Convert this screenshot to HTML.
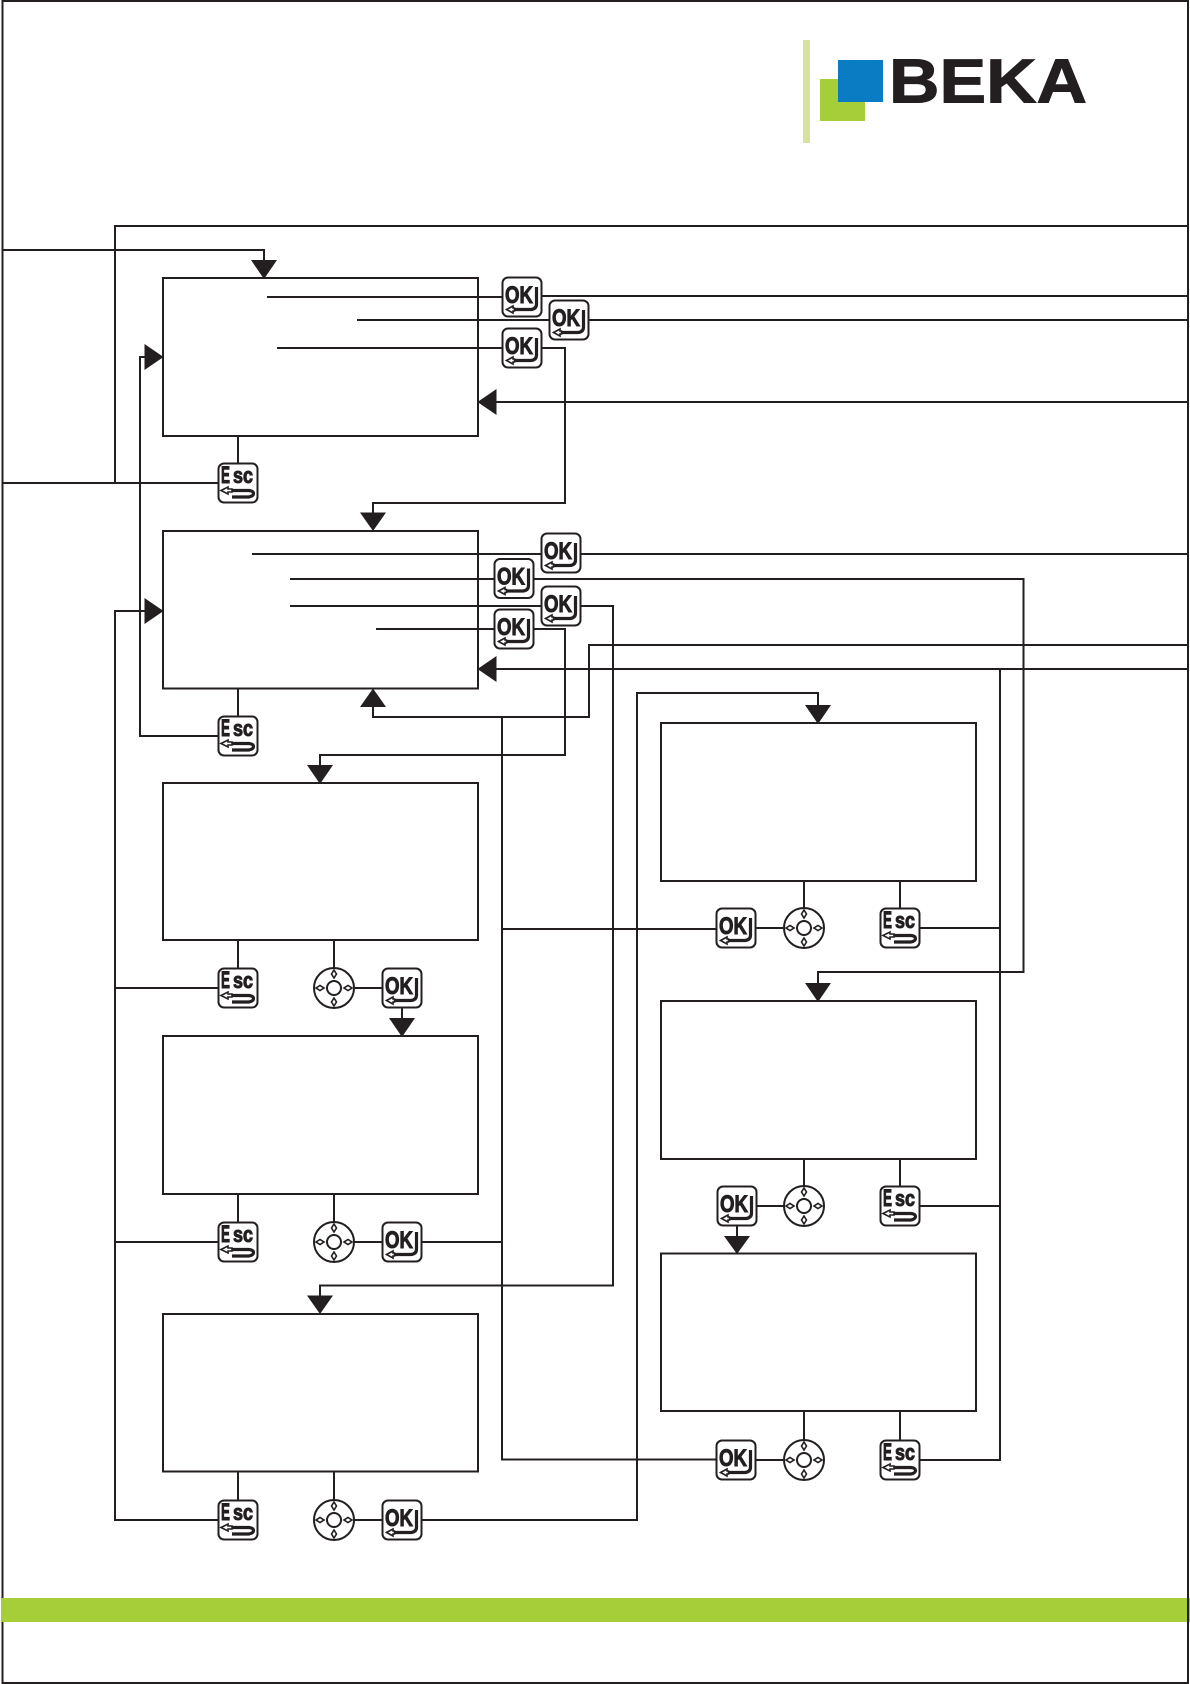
<!DOCTYPE html>
<html><head><meta charset="utf-8">
<style>
html,body{margin:0;padding:0;background:#fff}
svg{display:block}
.l{fill:none;stroke:#231f20;stroke-width:2}
.a{fill:#231f20;stroke:none}
.b{fill:#fff;stroke:#231f20;stroke-width:2}
.t{font-family:"Liberation Sans",sans-serif;font-weight:bold;fill:#231f20;stroke:#231f20;stroke-width:1}
.m{fill:none;stroke:#231f20;stroke-width:3.2;stroke-linejoin:round}
.s{fill:#fff;stroke:#231f20;stroke-width:1.600}
</style></head><body>
<svg xmlns="http://www.w3.org/2000/svg" width="1190" height="1684" viewBox="0 0 1190 1684">
<defs>
<g id="okm"><rect class="b" x="-19.500" y="-19.500" width="39" height="39" rx="5.500"/><path class="m" d="M14.500-10V7Q14.500 12 9 12.500H-8"/><path class="s" d="M-15.500 12.500l6.500-3.500v2h1.500v3H-9v2z"/></g>
<g id="esm"><rect class="b" x="-19.500" y="-19.500" width="39" height="39" rx="5.500"/><path class="m" d="M-9 7.500H11Q15.500 8 15.500 10.500T11 14H-6"/><path class="s" d="M-17 7.500l7-3.500v2h4v3h-4v2z"/></g>
<g id="jm"><circle class="b" r="20"/><circle class="b" r="7"/><path class="s" d="M0-18l2.500 4-2.500 4-2.500-4zM0 18l2.500-4-2.500-4-2.500 4zM-18 0l4-2.500 4 2.500-4 2.500zM18 0l-4-2.500-4 2.500 4 2.500z"/></g>
</defs>

<!-- page frame -->
<rect x="2.500" y="1" width="1185.500" height="1682" fill="none" stroke="#231f20" stroke-width="2"/>
<rect x="1" y="1598" width="1189" height="24" fill="#a6ce39"/>
<path d="M1188 1598V1622" stroke="#231f20" stroke-width="2"/>

<!-- logo -->
<rect x="803" y="40" width="7" height="103" fill="#d6e39d"/>
<rect x="820" y="79" width="45" height="42" fill="#a6ce39"/>
<rect x="838" y="60" width="45" height="42" fill="#0a7cc4"/>
<text class="t" x="889" y="102.500" font-size="62.500" textLength="198" lengthAdjust="spacingAndGlyphs">BEKA</text>

<!-- screen boxes -->
<g class="l">
<rect x="163" y="278" width="315" height="158"/>
<rect x="163" y="531" width="315" height="157.500"/>
<rect x="163" y="783" width="315" height="157"/>
<rect x="163" y="1036" width="315" height="158"/>
<rect x="163" y="1314" width="315" height="157.500"/>
<rect x="661" y="723" width="315" height="158"/>
<rect x="661" y="1001" width="315" height="158"/>
<rect x="661" y="1253.500" width="315" height="157.500"/>
</g>

<!-- connectors -->
<g class="l">
<path d="M1188 226H115V483"/>
<path d="M3 250H264V262"/>
<path d="M3 483H218"/>
<path d="M238 436V463"/>
<path d="M267 297H502M542 296H1188"/>
<path d="M357 320H549M589 320H1188"/>
<path d="M277 348H502M542 348H565V503H373V514"/>
<path d="M496 402H1188"/>
<path d="M145 357H140V736H218"/>
<path d="M238 688V716"/>
<path d="M252 554H541M581 554H1188"/>
<path d="M290 579H494M534 579H1023.500V972H818V984"/>
<path d="M290 606H541M581 606H613V1285.500H320V1296"/>
<path d="M376 629H494M534 629H565V755H320V766"/>
<path d="M1188 645H589V717H373V706"/>
<path d="M496 669H1188"/>
<path d="M502 717V1459.500H716M502 929H716M422 1242H502"/>
<path d="M422 1520H637V693H818V706"/>
<path d="M1000 669V1460H920M920 928H1000M920 1206H1000"/>
<path d="M145 611H115V1520H218M115 988H218M115 1242H218"/>
<path d="M238 940V968M334 940V968M354 988H382M402 1008V1020"/>
<path d="M238 1194V1222M334 1194V1222M354 1242H382"/>
<path d="M238 1471V1500M334 1471V1500M354 1520H382"/>
<path d="M804 881V908M900 881V908M756 928H784"/>
<path d="M804 1159V1186M900 1159V1186M757 1206H784M737 1226V1238"/>
<path d="M804 1411V1440M900 1411V1440M756 1460H784"/>
</g>

<!-- arrowheads -->
<g class="a">
<path d="M251 260H277L264 279z"/>
<path d="M360 512.500H386L373 531z"/>
<path d="M144.500 344V370L163.500 357z"/>
<path d="M496.500 389V415L477.500 402z"/>
<path d="M144.500 598V624L163.500 611z"/>
<path d="M496.500 656V682L477.500 669z"/>
<path d="M360 707H386L373 688.500z"/>
<path d="M307 765H333L320 784z"/>
<path d="M389 1018H415L402 1037z"/>
<path d="M307 1295.500H333L320 1314z"/>
<path d="M805 705H831L818 724z"/>
<path d="M805 983H831L818 1002z"/>
<path d="M724 1236H750L737 1254z"/>
</g>

<!-- OK buttons -->
<g transform="translate(522 297)"><use href="#okm"/><text class="t" x="-17" y="6" font-size="24" textLength="28" lengthAdjust="spacingAndGlyphs">OK</text></g>
<g transform="translate(569 320)"><use href="#okm"/><text class="t" x="-17" y="6" font-size="24" textLength="28" lengthAdjust="spacingAndGlyphs">OK</text></g>
<g transform="translate(522 348)"><use href="#okm"/><text class="t" x="-17" y="6" font-size="24" textLength="28" lengthAdjust="spacingAndGlyphs">OK</text></g>
<g transform="translate(561 553)"><use href="#okm"/><text class="t" x="-17" y="6" font-size="24" textLength="28" lengthAdjust="spacingAndGlyphs">OK</text></g>
<g transform="translate(514 578.500)"><use href="#okm"/><text class="t" x="-17" y="6" font-size="24" textLength="28" lengthAdjust="spacingAndGlyphs">OK</text></g>
<g transform="translate(561 606)"><use href="#okm"/><text class="t" x="-17" y="6" font-size="24" textLength="28" lengthAdjust="spacingAndGlyphs">OK</text></g>
<g transform="translate(514 629)"><use href="#okm"/><text class="t" x="-17" y="6" font-size="24" textLength="28" lengthAdjust="spacingAndGlyphs">OK</text></g>
<g transform="translate(402 988)"><use href="#okm"/><text class="t" x="-17" y="6" font-size="24" textLength="28" lengthAdjust="spacingAndGlyphs">OK</text></g>
<g transform="translate(402 1242)"><use href="#okm"/><text class="t" x="-17" y="6" font-size="24" textLength="28" lengthAdjust="spacingAndGlyphs">OK</text></g>
<g transform="translate(402 1520)"><use href="#okm"/><text class="t" x="-17" y="6" font-size="24" textLength="28" lengthAdjust="spacingAndGlyphs">OK</text></g>
<g transform="translate(736 928)"><use href="#okm"/><text class="t" x="-17" y="6" font-size="24" textLength="28" lengthAdjust="spacingAndGlyphs">OK</text></g>
<g transform="translate(737 1206)"><use href="#okm"/><text class="t" x="-17" y="6" font-size="24" textLength="28" lengthAdjust="spacingAndGlyphs">OK</text></g>
<g transform="translate(736 1460)"><use href="#okm"/><text class="t" x="-17" y="6" font-size="24" textLength="28" lengthAdjust="spacingAndGlyphs">OK</text></g>

<!-- Esc buttons -->
<g transform="translate(238 483)"><use href="#esm"/><text class="t" x="-17" y="0" font-size="24" textLength="9" lengthAdjust="spacingAndGlyphs">E</text><text class="t" x="-5" y="0" font-size="22" textLength="20" lengthAdjust="spacingAndGlyphs">sc</text></g>
<g transform="translate(238 736)"><use href="#esm"/><text class="t" x="-17" y="0" font-size="24" textLength="9" lengthAdjust="spacingAndGlyphs">E</text><text class="t" x="-5" y="0" font-size="22" textLength="20" lengthAdjust="spacingAndGlyphs">sc</text></g>
<g transform="translate(238 988)"><use href="#esm"/><text class="t" x="-17" y="0" font-size="24" textLength="9" lengthAdjust="spacingAndGlyphs">E</text><text class="t" x="-5" y="0" font-size="22" textLength="20" lengthAdjust="spacingAndGlyphs">sc</text></g>
<g transform="translate(238 1242)"><use href="#esm"/><text class="t" x="-17" y="0" font-size="24" textLength="9" lengthAdjust="spacingAndGlyphs">E</text><text class="t" x="-5" y="0" font-size="22" textLength="20" lengthAdjust="spacingAndGlyphs">sc</text></g>
<g transform="translate(238 1520)"><use href="#esm"/><text class="t" x="-17" y="0" font-size="24" textLength="9" lengthAdjust="spacingAndGlyphs">E</text><text class="t" x="-5" y="0" font-size="22" textLength="20" lengthAdjust="spacingAndGlyphs">sc</text></g>
<g transform="translate(900 928)"><use href="#esm"/><text class="t" x="-17" y="0" font-size="24" textLength="9" lengthAdjust="spacingAndGlyphs">E</text><text class="t" x="-5" y="0" font-size="22" textLength="20" lengthAdjust="spacingAndGlyphs">sc</text></g>
<g transform="translate(900 1206)"><use href="#esm"/><text class="t" x="-17" y="0" font-size="24" textLength="9" lengthAdjust="spacingAndGlyphs">E</text><text class="t" x="-5" y="0" font-size="22" textLength="20" lengthAdjust="spacingAndGlyphs">sc</text></g>
<g transform="translate(900 1460)"><use href="#esm"/><text class="t" x="-17" y="0" font-size="24" textLength="9" lengthAdjust="spacingAndGlyphs">E</text><text class="t" x="-5" y="0" font-size="22" textLength="20" lengthAdjust="spacingAndGlyphs">sc</text></g>

<!-- navigation pads -->
<use href="#jm" x="334" y="988"/>
<use href="#jm" x="334" y="1242"/>
<use href="#jm" x="334" y="1520"/>
<use href="#jm" x="804" y="928"/>
<use href="#jm" x="804" y="1206"/>
<use href="#jm" x="804" y="1460"/>
</svg>
</body></html>
